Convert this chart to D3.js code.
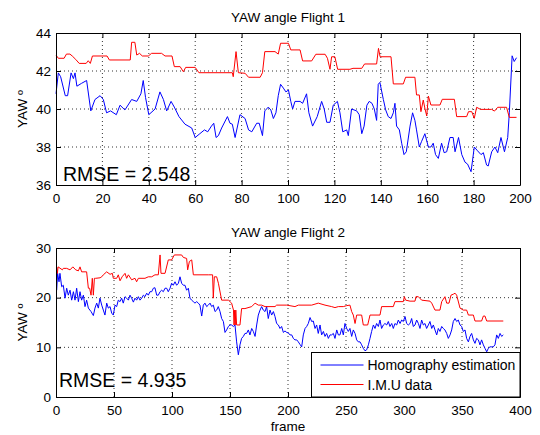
<!DOCTYPE html>
<html>
<head>
<meta charset="utf-8">
<script src="https://cdn.jsdelivr.net/npm/d3@7"></script>
<style>
  body { margin: 0; background: #fff; }
  text { font-family: "Liberation Sans", Arial, Helvetica, sans-serif; fill: #000; }
</style>
</head>
<body>
<div class="d3-content"></div>
<script>
const SVG_WIDTH = 540;
const SVG_HEIGHT = 435;

// Flight 1 : [frame, yaw]
const f1Homography = [[0,40.8],[1,41.9],[2,41.7],[4,40.7],[5,40.7],[6.5,41.9],[7.5,41.6],[8.2,41.9],[9,41.2],[11,41.35],[13.2,41.5],[15,39.9],[16.8,40.5],[19,40.7],[20.4,40.5],[21.8,39.8],[23.5,39.9],[26,39.7],[27.6,40.2],[29.7,39.95],[32.6,40.5],[34.8,40.4],[36.6,40.8],[37.6,41.5],[38.6,40.6],[40,39.7],[42.7,40.0],[44.8,40.9],[46.3,40.5],[47.7,39.9],[49.6,40.4],[51,40.1],[53,39.6],[55.6,39.2],[58.5,39.0],[60,38.5],[62,38.7],[64,38.9],[65.4,38.8],[67,39.1],[68,39.25],[69,38.5],[70,38.6],[71.4,39.0],[73.9,39.6],[75,39.25],[76,39.2],[77.2,38.5],[79.3,39.7],[81.5,39.5],[83,38.9],[84.4,38.8],[86.5,39.25],[87.6,39.25],[89,38.6],[90,39.9],[91.5,40.1],[92.6,39.95],[93.7,39.5],[94.8,39.8],[95.8,40.7],[96.8,41.3],[98,41.1],[99.1,40.9],[100.2,41.0],[101.2,40.4],[102,40.0],[103,40.4],[105.2,40.4],[106.3,40.3],[108,40.8],[109,39.8],[110.6,39.1],[112.6,39.6],[114.5,40.4],[115.6,40.0],[116.7,39.3],[118.1,39.3],[119.5,40.2],[121.3,40.4],[122.4,39.8],[123.6,38.8],[125.3,38.9],[126,38.6],[127.4,40.0],[129.6,39.9],[130.7,39.7],[131.8,38.7],[132.8,39.1],[134,40.2],[135,40.4],[136.2,40.3],[137.2,40.0],[138.2,39.4],[138.9,41.3],[139.6,41.4],[141.1,40.5],[142.1,39.95],[143.2,39.6],[144.4,39.5],[145.4,39.8],[146.1,40.3],[146.8,39.1],[148,38.9],[149,38.2],[150,37.6],[151,37.75],[152.6,39.1],[153.7,39.8],[154.7,39.4],[155.4,38.9],[156.6,38.0],[157.6,38.3],[159,38.7],[160.5,38.0],[161.6,38.0],[162.6,38.2],[163.6,37.6],[164.8,37.4],[166.2,38.2],[167.3,37.7],[168.4,37.75],[169.8,38.5],[171.2,38.5],[172,37.75],[173.5,38.5],[174.9,37.6],[176.3,37.2],[177.4,37.1],[178.9,36.7],[180.3,38.0],[181.7,37.8],[183.2,37.6],[184.2,37.7],[185.6,37.05],[186.3,37.0],[187.8,37.75],[189.2,38.0],[190.4,37.7],[191.8,38.5],[193.3,37.75],[194.7,38.5],[195.4,39.8],[196.6,42.8],[197.5,42.5],[198.5,42.7]];

const f1Imu = [[0,42.84],[1,42.67],[3.5,42.67],[4.5,42.89],[6,42.89],[7,42.79],[8.5,42.61],[10,42.4],[13,42.4],[13.9,42.54],[14.8,42.4],[15.7,42.79],[22,42.79],[23,42.58],[32,42.58],[32.6,43.51],[34,43.51],[34.8,42.84],[36,42.93],[37.2,42.79],[39.8,42.79],[41.2,42.93],[45.5,42.93],[47,42.79],[50,42.79],[51,42.23],[53.5,42.23],[54.9,41.96],[55.9,42.19],[60,42.19],[61.6,41.91],[76,41.91],[76.4,41.7],[77.6,43.02],[78.6,41.91],[81.5,41.88],[83,41.67],[88,41.67],[89,41.91],[90,43.02],[94.4,43.02],[95.8,42.89],[96.8,43.46],[100.2,43.46],[101.2,43.11],[105.2,43.11],[106.3,42.53],[110.2,42.53],[112,42.88],[116,42.88],[117,42.67],[118.1,42.09],[118.8,42.75],[120.2,42.75],[121.4,42.09],[126.7,42.09],[128,42.14],[131.8,42.14],[133,42.37],[138.2,42.37],[139,43.19],[139.7,42.75],[144.4,42.75],[145.4,41.32],[149.7,41.32],[150.7,41.67],[154.7,41.67],[155.4,40.74],[156.6,40.74],[157.3,39.86],[158.3,40.47],[159,40.04],[159.8,39.63],[160.5,40.68],[161.6,40.21],[165.5,40.21],[166.5,40.51],[171.7,40.51],[172.7,39.6],[177,39.6],[177.8,39.86],[179.2,39.86],[180.3,39.51],[181.3,40.09],[183,39.98],[187.8,39.98],[189,39.89],[190.4,40.09],[194.2,40.09],[195.4,39.56],[198.5,39.56]];

// Flight 2 : [frame, yaw]
const f2Homography = [[0.6,21.5],[1.4,24.9],[2.6,23.2],[3.4,24.9],[4.9,22.2],[6.3,22.5],[7.8,19.9],[9.2,21.9],[10.6,20.5],[12.1,21.5],[13.5,19.5],[15,21.2],[16.4,19.5],[17.8,21.9],[19.3,19.2],[20.7,21.2],[22.1,19.5],[23.6,20.5],[25,18.2],[26.4,19.5],[27.9,17.9],[30.2,17.2],[32.2,16.4],[33.6,17.9],[35.1,18.9],[36.5,17.9],[37.9,19.9],[39.4,18.5],[40.8,17.5],[42.2,16.5],[43.7,18.9],[45.1,17.9],[46.6,18.2],[48,16.9],[49.4,16.5],[50.9,18.5],[52.3,18.2],[53.7,19.5],[55.2,19.2],[56.6,19.9],[58,18.9],[59.5,20.2],[60.9,19.9],[62.4,19.5],[63.8,20.5],[65.2,19.9],[66.7,19.1],[68.1,19.9],[69.5,19.5],[71,20.2],[72.4,19.5],[73.9,19.9],[75.3,20.5],[76.7,20.2],[78.2,20.9],[79.6,20.5],[81,21.2],[82.5,21.2],[83.9,21.9],[85.3,22.0],[86.8,20.5],[88.2,20.5],[89.7,21.2],[91.1,21.5],[92.5,21.2],[94,21.9],[95.4,21.9],[96.8,21.2],[98.3,21.9],[99.7,22.9],[101.1,22.5],[102.6,23.2],[104,22.5],[105.5,22.9],[106.9,24.2],[108.3,22.9],[109.8,22.5],[111.2,22.5],[112.6,21.5],[114.1,21.9],[115.5,19.9],[116.9,19.5],[118.4,19.2],[119.8,18.9],[121.3,19.2],[122.7,18.9],[124.1,18.5],[125.6,16.3],[127,18.5],[128.4,18.9],[129.9,18.2],[131.3,18.5],[132.8,18.9],[134.2,18.2],[135.6,18.5],[137.1,17.2],[138.5,17.5],[139.9,18.2],[141.4,17.2],[142.8,15.8],[144.3,15.2],[145.7,13.0],[147.1,13.5],[148.6,14.2],[150,14.5],[151.4,14.5],[152.9,14.2],[154.3,14.5],[155.7,11.1],[157.2,8.5],[158.6,10.5],[160,11.8],[161.5,12.2],[162.9,12.8],[164.3,12.8],[165.8,13.5],[167.2,12.5],[168.7,13.8],[170.1,13.2],[171.6,12.2],[173,14.5],[174.4,16.5],[175.9,17.5],[177.3,18.2],[178.7,17.5],[180.2,17.2],[181.6,18.2],[183,15.8],[184.5,17.5],[185.9,16.5],[187.4,17.2],[188.8,16.2],[190.2,14.8],[191.7,14.5],[193.1,13.8],[194.5,14.2],[196,13.0],[197.4,13.3],[198.9,13.0],[200.3,12.9],[201.7,12.5],[203.2,12.5],[204.6,11.8],[206,11.5],[207.5,11.5],[208.9,11.1],[210.3,10.6],[211.8,10.1],[213.2,12.5],[214.7,13.8],[216.1,14.2],[217.5,14.8],[219,16.0],[220.4,15.2],[221.8,15.3],[223.3,13.8],[224.7,14.5],[226.1,12.8],[227.6,14.5],[229,12.5],[230.5,13.2],[231.9,12.2],[233.3,12.8],[234.8,11.8],[236.2,12.5],[237.6,12.5],[239.1,12.8],[240.5,11.8],[242,13.5],[243.4,12.5],[244.8,12.5],[246.3,13.8],[247.7,12.5],[249.1,14.8],[250.6,13.8],[252,13.2],[253.4,13.8],[254.9,12.2],[256.3,13.5],[257.8,12.8],[259.2,11.5],[260.6,11.1],[262.1,11.1],[263.5,10.5],[264.9,9.8],[266.4,9.3],[267.8,9.5],[269.3,10.5],[270.7,11.8],[272.1,13.2],[273.6,14.5],[275,13.8],[276.4,14.8],[277.9,14.2],[279.3,15.5],[280.7,13.8],[282.2,14.5],[283.6,14.8],[285.1,14.5],[286.5,15.2],[287.9,14.2],[289.4,14.8],[290.8,13.8],[292.2,14.8],[293.7,14.5],[295.1,15.5],[296.6,14.8],[298,15.5],[299.4,15.2],[300.9,16.2],[302.3,14.8],[303.7,14.5],[305.2,14.8],[306.6,15.8],[308,14.2],[309.5,14.5],[310.9,15.5],[312.4,14.8],[313.8,13.8],[315.2,15.5],[316.7,14.5],[318.1,14.8],[319.5,13.8],[321,14.5],[322.4,15.2],[323.9,13.8],[325.3,14.5],[326.7,13.5],[328.2,12.5],[329.6,13.8],[331,13.2],[332.5,14.2],[333.9,13.8],[335.3,13.5],[336.8,12.8],[338.2,11.8],[339.7,12.5],[341.1,13.5],[342.5,15.2],[344,15.8],[345.4,15.2],[346.8,15.5],[348.3,14.5],[349.7,14.2],[351.1,13.2],[352.6,13.5],[354,11.8],[355.5,11.1],[356.9,12.2],[358.3,12.8],[359.8,11.5],[361.2,10.8],[362.6,11.8],[364.1,11.5],[365.5,10.5],[366.9,11.5],[368.4,10.5],[369.8,9.8],[371.3,9.1],[372.7,9.8],[374.1,10.1],[375.6,10.1],[377,10.1],[378.4,10.5],[379.9,12.5],[381.3,11.8],[382.8,12.8],[384.2,12.2],[385.6,12.5]];

const f2Imu = [[0.6,26.2],[1.2,24.9],[1.8,26.2],[5.5,25.6],[6.3,25.9],[9.2,25.9],[12.1,25.6],[14.5,26.2],[17,25.6],[19.3,25.4],[20.7,26.2],[22.1,25.2],[26.4,25.2],[27.9,21.9],[29,21.9],[30.2,20.5],[31.3,23.9],[32.2,20.5],[33.1,23.9],[34.2,23.9],[38,24.0],[39.4,24.2],[40.8,24.6],[43.7,25.2],[46.6,24.7],[48.6,24.9],[49.4,23.9],[52.3,23.9],[53.7,24.6],[55.2,23.4],[57,24.2],[59.5,24.9],[60.9,23.9],[62.4,24.6],[65.2,23.6],[68.1,23.9],[69.5,23.2],[71,23.9],[76.7,23.9],[79.6,24.2],[82.5,24.2],[85.3,24.6],[88.2,24.6],[89.7,28.6],[90.5,24.9],[94,24.9],[96.8,27.6],[99.7,27.6],[102,28.6],[108.3,28.6],[109.8,28.1],[112.6,27.9],[113.5,25.6],[115,27.3],[117,27.6],[118.4,24.6],[131.3,24.6],[135,24.6],[135.6,19.9],[136.5,24.2],[138.5,24.2],[140,22.9],[142.8,19.5],[148.6,19.5],[150,19.2],[151.4,18.9],[153,17.5],[153.5,14.5],[154,17.5],[154.5,14.5],[155,17.5],[155.7,14.5],[158.6,14.5],[160,17.8],[162.9,17.8],[168.7,18.2],[171.6,18.9],[174.4,18.5],[177.3,18.5],[180.2,18.2],[188.8,18.2],[190.2,18.5],[198.9,18.5],[206,18.2],[208.9,18.5],[220.4,18.5],[226.1,18.9],[231.9,18.5],[237.6,18.2],[240.5,18.0],[243.4,18.2],[247.7,18.2],[250.6,18.4],[253.4,18.5],[254.9,17.2],[256.3,16.5],[257.8,14.8],[259.2,16.5],[263.5,16.5],[264.9,14.5],[268.7,14.5],[270.7,16.5],[279.3,16.5],[280.7,18.2],[290.8,18.2],[292.2,19.2],[299.4,19.2],[300.3,20.2],[301.4,19.5],[305.2,19.3],[309.5,19.3],[310.3,20.2],[312.4,20.2],[315.2,19.5],[322.4,19.3],[323.9,18.9],[326.7,17.5],[331,17.5],[332.5,19.2],[335.3,20.2],[336.8,18.9],[338.8,18.9],[340.5,20.5],[342.5,20.7],[344,20.9],[345.4,20.5],[348.3,17.9],[351.1,17.5],[354,17.5],[355.5,16.5],[359.8,16.5],[361.2,15.3],[366.9,15.3],[368.4,16.3],[369.8,16.3],[371.3,15.3],[385.6,15.3]];

const f1XTicks = [0, 20, 40, 60, 80, 100, 120, 140, 160, 180, 200];
const f1YTicks = [36, 38, 40, 42, 44];
const f2XTicks = [0, 50, 100, 150, 200, 250, 300, 350, 400];
const f2YTicks = [0, 10, 20, 30];
const legendLabels = ['Homography estimation', 'I.M.U data'];
const seriesColors = ['#0000ff', '#ff0000'];

const svg = d3.select('.d3-content')
  .append('svg')
  .attr('width', SVG_WIDTH)
  .attr('height', SVG_HEIGHT);

svg.append('rect').attr('width', SVG_WIDTH).attr('height', SVG_HEIGHT).attr('fill', '#fff');

const LEFT = 56, RIGHT = 520;
const FS = '13.5px';

function panel(p) {
  const x = d3.scaleLinear().domain([p.xTicks[0], p.xTicks[p.xTicks.length - 1]]).range([LEFT, RIGHT]);
  const y = d3.scaleLinear().domain([p.yTicks[0], p.yTicks[p.yTicks.length - 1]]).range([p.bottom, p.top]);
  const g = svg.append('g');

  // dotted grid
  g.selectAll('.gx').data(p.xTicks.slice(1, -1)).join('line')
    .attr('x1', d => x(d)).attr('x2', d => x(d))
    .attr('y1', p.top).attr('y2', p.bottom)
    .attr('stroke', '#000').attr('stroke-width', 0.8).attr('stroke-dasharray', '1,3');
  g.selectAll('.gy').data(p.yTicks.slice(1, -1)).join('line')
    .attr('x1', LEFT).attr('x2', RIGHT)
    .attr('y1', d => y(d)).attr('y2', d => y(d))
    .attr('stroke', '#000').attr('stroke-width', 0.8).attr('stroke-dasharray', '1,3');

  const line = d3.line().x(d => x(d[0])).y(d => y(d[1]));
  p.series.forEach((s, i) => {
    g.append('path').datum(s)
      .attr('d', line)
      .attr('fill', 'none')
      .attr('stroke', seriesColors[i])
      .attr('stroke-width', 1);
  });

  // axes, inward ticks, box on
  const ax = [
    [d3.axisBottom(x).tickValues(p.xTicks), `translate(0,${p.bottom})`, true],
    [d3.axisTop(x).tickValues(p.xTicks).tickFormat(''), `translate(0,${p.top})`, false],
    [d3.axisLeft(y).tickValues(p.yTicks), `translate(${LEFT},0)`, true],
    [d3.axisRight(y).tickValues(p.yTicks).tickFormat(''), `translate(${RIGHT},0)`, false],
  ];
  ax.forEach(([a, t, lab]) => {
    const ag = g.append('g').attr('transform', t)
      .call(a.tickSizeInner(-5).tickSizeOuter(0).tickPadding(lab ? 5 : 0));
    ag.select('.domain').attr('stroke', '#000');
    ag.selectAll('.tick line').attr('stroke', '#000');
    ag.selectAll('text').style('font-size', FS).style('font-family', '"Liberation Sans", Arial, sans-serif').attr('fill', '#000');
  });
  g.selectAll('.tick text').filter(function () { return this.parentNode.parentNode.getAttribute('transform') === `translate(0,${p.bottom})`; })
    .attr('y', 8.5);

  svg.append('text').text(p.title)
    .attr('x', (LEFT + RIGHT) / 2).attr('y', p.top - 11.5)
    .attr('text-anchor', 'middle').style('font-size', FS);

  svg.append('text').text('YAW º')
    .attr('transform', `translate(27, ${(p.top + p.bottom) / 2}) rotate(-90)`)
    .attr('text-anchor', 'middle').style('font-size', FS);

  svg.append('text').text(p.rmse)
    .attr('x', p.rmseX).attr('y', p.rmseY)
    .style('font-size', '19.5px');

  return { x, y };
}

panel({
  top: 33, bottom: 185,
  xTicks: f1XTicks, yTicks: f1YTicks,
  series: [f1Homography, f1Imu],
  title: 'YAW angle Flight 1',
  rmse: 'RMSE = 2.548', rmseX: 63, rmseY: 180.5,
});

panel({
  top: 248, bottom: 397,
  xTicks: f2XTicks, yTicks: f2YTicks,
  series: [f2Homography, f2Imu],
  title: 'YAW angle Flight 2',
  rmse: 'RMSE = 4.935', rmseX: 59, rmseY: 387,
});

// x-axis label
svg.append('text').text('frame')
  .attr('x', (LEFT + RIGHT) / 2).attr('y', 431)
  .attr('text-anchor', 'middle').style('font-size', FS);

// legend
const legend = svg.append('g').attr('transform', 'translate(311.5, 352.5)');
legend.append('rect')
  .attr('width', 208.5).attr('height', 44.5)
  .attr('fill', '#fff').attr('stroke', '#000');
legendLabels.forEach((l, i) => {
  const yy = 12.5 + i * 19.5;
  legend.append('line')
    .attr('x1', 9).attr('x2', 52).attr('y1', yy).attr('y2', yy)
    .attr('stroke', seriesColors[i]).attr('stroke-width', 1);
  legend.append('text').text(l)
    .attr('x', 56).attr('y', yy + 5)
    .style('font-size', '14px');
});
</script>
</body>
</html>
